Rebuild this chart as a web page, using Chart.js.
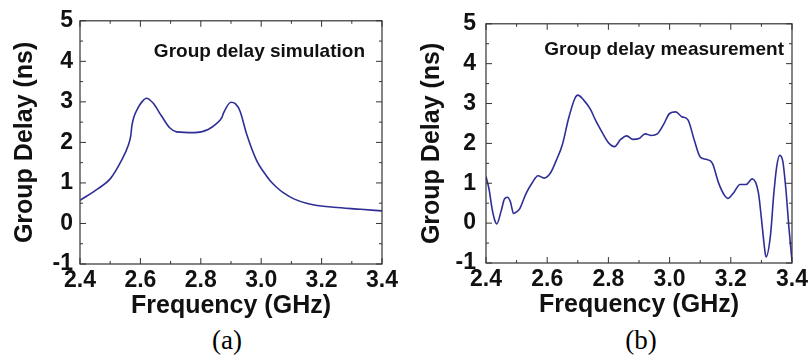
<!DOCTYPE html>
<html>
<head>
<meta charset="utf-8">
<title>Group delay</title>
<style>
  body { margin: 0; background: #fff; width: 811px; height: 362px; position: relative; overflow: hidden; }
  canvas { position: absolute; top: 0; }
  .cap { position: absolute; top: 325px; font-family: "Liberation Serif", "Times New Roman", serif; font-size: 27px; color: #000; width: 60px; text-align: center; }
</style>
</head>
<body>
<canvas id="simChart" width="405" height="322" style="left:0px"></canvas>
<canvas id="measChart" width="405" height="322" style="left:406px"></canvas>
<div class="cap" style="left:197px">(a)</div>
<div class="cap" style="left:611px">(b)</div>
<script src="https://cdn.jsdelivr.net/npm/chart.js@4.4.0/dist/chart.umd.min.js"></script>
<script>

// simulated group delay (ns) vs frequency (GHz)
const simFreq  = [2.40, 2.46, 2.50, 2.537, 2.56, 2.568, 2.572, 2.592, 2.605, 2.62, 2.642, 2.67, 2.697, 2.72, 2.78, 2.824, 2.85, 2.87, 2.875, 2.90, 2.915, 2.93, 2.952, 2.985, 3.01, 3.029, 3.05, 3.073, 3.11, 3.15, 3.20, 3.24, 3.33, 3.40];
const simDelay = [0.57, 0.86, 1.10, 1.55, 1.93, 2.16, 2.42, 2.85, 3.00, 3.09, 2.97, 2.65, 2.36, 2.26, 2.24, 2.32, 2.45, 2.62, 2.72, 2.99, 2.95, 2.77, 2.20, 1.55, 1.25, 1.06, 0.90, 0.76, 0.60, 0.50, 0.43, 0.40, 0.35, 0.31];

// measured group delay
const measFreq  = [2.40, 2.41, 2.42, 2.43, 2.435, 2.45, 2.46, 2.47, 2.48, 2.49, 2.50, 2.51, 2.53, 2.55, 2.57, 2.59, 2.61, 2.63, 2.65, 2.67, 2.69, 2.70, 2.72, 2.74, 2.76, 2.78, 2.80, 2.82, 2.84, 2.86, 2.88, 2.90, 2.92, 2.94, 2.96, 2.98, 3.00, 3.02, 3.04, 3.06, 3.08, 3.10, 3.12, 3.14, 3.16, 3.18, 3.19, 3.21, 3.23, 3.25, 3.27, 3.29, 3.30, 3.31, 3.315, 3.33, 3.34, 3.35, 3.36, 3.37, 3.38, 3.39, 3.40];
const measDelay = [1.17, 0.85, 0.36, 0.04, -0.02, 0.32, 0.60, 0.65, 0.53, 0.24, 0.28, 0.36, 0.73, 1.00, 1.19, 1.13, 1.25, 1.58, 1.98, 2.63, 3.12, 3.21, 3.08, 2.87, 2.55, 2.27, 2.02, 1.92, 2.10, 2.19, 2.10, 2.12, 2.24, 2.20, 2.24, 2.47, 2.75, 2.79, 2.67, 2.59, 2.10, 1.66, 1.60, 1.50, 1.01, 0.69, 0.62, 0.77, 0.97, 0.97, 1.11, 0.77, 0.12, -0.61, -0.85, -0.28, 0.69, 1.42, 1.70, 1.55, 0.85, -0.12, -0.95];

const xMin = 2.4, xMax = 3.4, xStep = 0.2, xMinor = 0.1;
const yMin = -1, yMax = 5, yStep = 1, yMinor = 0.5;

const lineColor = '#2e2e96';

// frame box + inward tick marks on all four sides, plus the in-plot note
const framePlugin = {
  id: 'frame',
  afterDraw(chart, args, opts) {
    const ctx = chart.ctx;
    const a = chart.chartArea;
    const xs = chart.scales.x, ys = chart.scales.y;
    ctx.save();
    ctx.strokeStyle = '#333';
    ctx.lineWidth = 1.2;
    ctx.strokeRect(a.left, a.top, a.right - a.left, a.bottom - a.top);
    ctx.lineWidth = 1;
    ctx.beginPath();
    for (let i = 0; i <= Math.round((xMax - xMin) / xMinor); i++) {
      const px = xs.getPixelForValue(xMin + i * xMinor);
      const len = i % 2 === 0 ? 6 : 3;
      ctx.moveTo(px, a.bottom); ctx.lineTo(px, a.bottom - len);
      ctx.moveTo(px, a.top); ctx.lineTo(px, a.top + len);
    }
    for (let i = 0; i <= Math.round((yMax - yMin) / yMinor); i++) {
      const py = ys.getPixelForValue(yMin + i * yMinor);
      const len = i % 2 === 0 ? 6 : 3;
      ctx.moveTo(a.left, py); ctx.lineTo(a.left + len, py);
      ctx.moveTo(a.right, py); ctx.lineTo(a.right - len, py);
    }
    ctx.stroke();
    ctx.fillStyle = '#111';
    ctx.font = 'bold 19px "Liberation Sans", Arial, sans-serif';
    ctx.textAlign = 'right';
    ctx.textBaseline = 'middle';
    ctx.fillText(opts.note, a.right - opts.noteRight, a.top + opts.noteTop);
    ctx.restore();
  }
};

function makeChart(id, freq, delay, note, noteRight, noteTop, pad, titleShift, tickPad) {
  const tickFont = { family: '"Liberation Sans", Arial, sans-serif', size: 23, weight: 'bold' };
  const titleFont = { family: '"Liberation Sans", Arial, sans-serif', size: 25, weight: 'bold' };
  return new Chart(document.getElementById(id), {
    type: 'line',
    data: {
      datasets: [{
        data: freq.map((f, i) => ({ x: f, y: delay[i] })),
        borderColor: lineColor,
        borderWidth: 1.6,
        pointRadius: 0,
        cubicInterpolationMode: 'monotone',
        fill: false
      }]
    },
    options: {
      responsive: false,
      animation: false,
      layout: { padding: pad },
      plugins: {
        legend: { display: false },
        tooltip: { enabled: false },
        frame: { note: note, noteRight: noteRight, noteTop: noteTop }
      },
      scales: {
        x: {
          type: 'linear',
          min: xMin, max: xMax,
          grid: { display: false, drawTicks: false },
          border: { display: false },
          ticks: { stepSize: xStep, color: '#111', font: tickFont, padding: 3, maxRotation: 0,
                   callback: v => v.toFixed(1) },
          title: { display: true, text: 'Frequency (GHz)', color: '#111', font: titleFont, padding: { top: 0, bottom: 0 } },
          afterFit(s) { s.height = 57; }
        },
        y: {
          min: yMin, max: yMax,
          grid: { display: false, drawTicks: false },
          border: { display: false },
          ticks: { stepSize: yStep, color: '#111', font: tickFont, padding: tickPad },
          title: { display: true, text: 'Group Delay (ns)', color: '#111', font: titleFont, padding: { top: titleShift, bottom: 0 } },
          afterFit(s) { s.width = 80; }
        }
      }
    },
    plugins: [framePlugin]
  });
}

makeChart('simChart', simFreq, simDelay, 'Group delay simulation', 17, 31,
          { left: 0, top: 17, right: 23, bottom: 1 }, 10, 7);
makeChart('measChart', measFreq, measDelay, 'Group delay measurement', 8, 26,
          { left: 0, top: 16, right: 19, bottom: 2 }, 11, 10);

</script>
</body>
</html>
